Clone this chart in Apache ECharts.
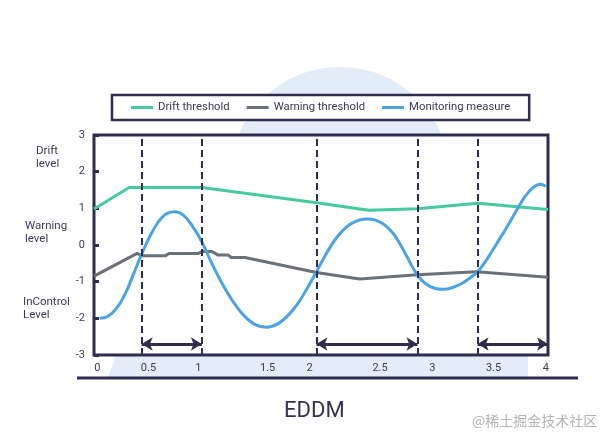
<!DOCTYPE html>
<html><head><meta charset="utf-8">
<script src="https://cdn.jsdelivr.net/npm/echarts@6/dist/echarts.min.js"></script>
<style>html,body{margin:0;padding:0;background:#fff}#c{width:600px;height:441px}</style>
</head><body><div id="c"></div>
<script>
// ---- data ----
const seriesNames = ['Drift threshold', 'Warning threshold', 'Monitoring measure'];
const driftThreshold = [[0,0.98],[0.31,1.57],[0.95,1.57],[1.96,1.15],[2.42,0.95],[2.85,0.99],[3.38,1.14],[4,0.97]];
const warningThreshold = [[0,-0.85],[0.38,-0.23],[0.42,-0.29],[0.63,-0.29],[0.66,-0.23],[0.92,-0.23],[0.95,-0.18],[1.04,-0.18],[1.09,-0.27],[1.18,-0.27],[1.21,-0.34],[1.33,-0.34],[1.96,-0.75],[2.34,-0.93],[2.85,-0.81],[3.37,-0.73],[4,-0.88]];
const monitoringMeasure = [[0.05,-2.00],[0.12,-1.95],[0.20,-1.72],[0.28,-1.30],[0.35,-0.78],[0.42,-0.25],[0.49,0.22],[0.56,0.60],[0.63,0.84],[0.71,0.91],[0.79,0.81],[0.87,0.50],[0.95,0.09],[1.03,-0.45],[1.12,-1.00],[1.22,-1.52],[1.32,-1.92],[1.42,-2.17],[1.52,-2.24],[1.62,-2.15],[1.71,-1.92],[1.80,-1.58],[1.88,-1.17],[1.96,-0.73],[2.04,-0.27],[2.13,0.17],[2.22,0.48],[2.31,0.65],[2.40,0.71],[2.48,0.68],[2.56,0.55],[2.64,0.30],[2.71,-0.05],[2.78,-0.45],[2.85,-0.82],[2.92,-1.05],[3.00,-1.18],[3.08,-1.21],[3.16,-1.16],[3.24,-1.05],[3.31,-0.90],[3.38,-0.73],[3.46,-0.40],[3.55,0.05],[3.64,0.50],[3.72,0.93],[3.80,1.33],[3.87,1.57],[3.93,1.66],[3.98,1.60]];
const driftPoints = [0.42, 0.95, 1.96, 2.85, 3.38];
const driftIntervals = [[0.42, 0.95], [1.96, 2.85], [3.38, 4.0]];
const intervalLevel = -2.7;
const xTickValues = [0.03, 0.48, 0.92, 1.53, 1.90, 2.52, 2.98, 3.52, 3.98];
const xTickLabels = ['0', '0.5', '1', '1.5', '2', '2.5', '3', '3.5', '4'];
const levelLabels = ['Drift\nlevel', 'Warning\nlevel', 'InControl\nLevel'];
const chartTitle = 'EDDM';
const watermark = '@稀土掘金技术社区';

// ---- styles ----
const NAVY = '#2f2d4f';
const TXT = '#3b3954';
const FONT = 'Roboto';
const COLORS = ['#44c9a1', '#6b7178', '#4ba3e3'];

const chart = echarts.init(document.getElementById('c'), null, {renderer: 'canvas'});
chart.setOption({
  animation: false,
  backgroundColor: '#fff',
  textStyle: {fontFamily: FONT},
  legend: {
    data: seriesNames,
    left: 112, top: 95,
    padding: [7, 19, 7, 19],
    itemGap: 17,
    itemWidth: 22, itemHeight: 3,
    icon: 'rect',
    borderColor: NAVY, borderWidth: 2.5, borderRadius: 0,
    backgroundColor: '#fff',
    textStyle: {fontSize: 11.3, color: TXT, fontFamily: FONT}
  },
  grid: {
    left: 94, right: 52, top: 135, bottom: 86,
    show: true, borderColor: NAVY, borderWidth: 3, backgroundColor: '#fff'
  },
  xAxis: {
    type: 'value', min: 0, max: 4,
    axisLine: {show: false}, axisTick: {show: false}, splitLine: {show: false},
    axisLabel: {
      customValues: xTickValues,
      margin: 8, fontSize: 11, color: TXT, fontFamily: FONT,
      formatter: function (v) {
        let best = 0, d = Infinity;
        xTickValues.forEach(function (t, i) { if (Math.abs(t - v) < d) { d = Math.abs(t - v); best = i; } });
        return xTickLabels[best];
      }
    }
  },
  yAxis: {
    type: 'value', min: -3, max: 3, interval: 1,
    axisLine: {show: false}, splitLine: {show: false},
    axisTick: {show: true, inside: true, length: 5, lineStyle: {color: NAVY, width: 3}},
    axisLabel: {margin: 9, fontSize: 11, color: TXT, fontFamily: FONT}
  },
  series: [
    {
      name: seriesNames[0], type: 'line', data: driftThreshold, showSymbol: false,
      color: COLORS[0], lineStyle: {width: 3, color: COLORS[0]}, z: 2
    },
    {
      name: seriesNames[1], type: 'line', data: warningThreshold, showSymbol: false,
      color: COLORS[1], lineStyle: {width: 3, color: COLORS[1]}, z: 2,
      markLine: {
        silent: true, symbol: ['arrow', 'arrow'], symbolSize: [10, 11],
        label: {show: false},
        lineStyle: {color: NAVY, width: 3, type: 'solid'},
        itemStyle: {color: NAVY},
        data: driftIntervals.map(function (p) { return [{coord: [p[0], intervalLevel]}, {coord: [p[1], intervalLevel]}]; })
      }
    },
    {
      name: seriesNames[2], type: 'line', data: monitoringMeasure, showSymbol: false, smooth: 0.4,
      color: COLORS[2], lineStyle: {width: 3, color: COLORS[2]}, z: 3,
      markLine: {
        silent: true, symbol: ['none', 'none'],
        label: {show: false},
        lineStyle: {color: NAVY, width: 2, type: [7, 4]},
        data: driftPoints.map(function (x) { return {xAxis: x}; })
      }
    }
  ],
  graphic: [
    {type: 'circle', z: -10, shape: {cx: 340, cy: 177, r: 110}, style: {fill: '#e3edf9'}},
    {type: 'polygon', z: -10, shape: {points: [[116, 356], [108, 377], [528, 377], [528, 356]]}, style: {fill: '#e3edf9'}},
    {type: 'line', z: 5, shape: {x1: 77, y1: 378, x2: 578, y2: 378}, style: {stroke: NAVY, lineWidth: 3}},
    {type: 'text', left: 36, top: 145, style: {text: levelLabels[0], font: '11.5px Roboto', fill: TXT, lineHeight: 13}},
    {type: 'text', left: 25, top: 220, style: {text: levelLabels[1], font: '11.5px Roboto', fill: TXT, lineHeight: 13}},
    {type: 'text', left: 23, top: 296, style: {text: levelLabels[2], font: '11.5px Roboto', fill: TXT, lineHeight: 13}},
    {type: 'text', left: 284, top: 400, style: {text: chartTitle, font: '22px Roboto', fill: '#34324f'}},
    {type: 'text', left: 472, top: 414, style: {text: watermark, font: '14px "Noto Sans CJK SC"', fill: '#b4b4b4'}}
  ]
});
</script></body></html>
